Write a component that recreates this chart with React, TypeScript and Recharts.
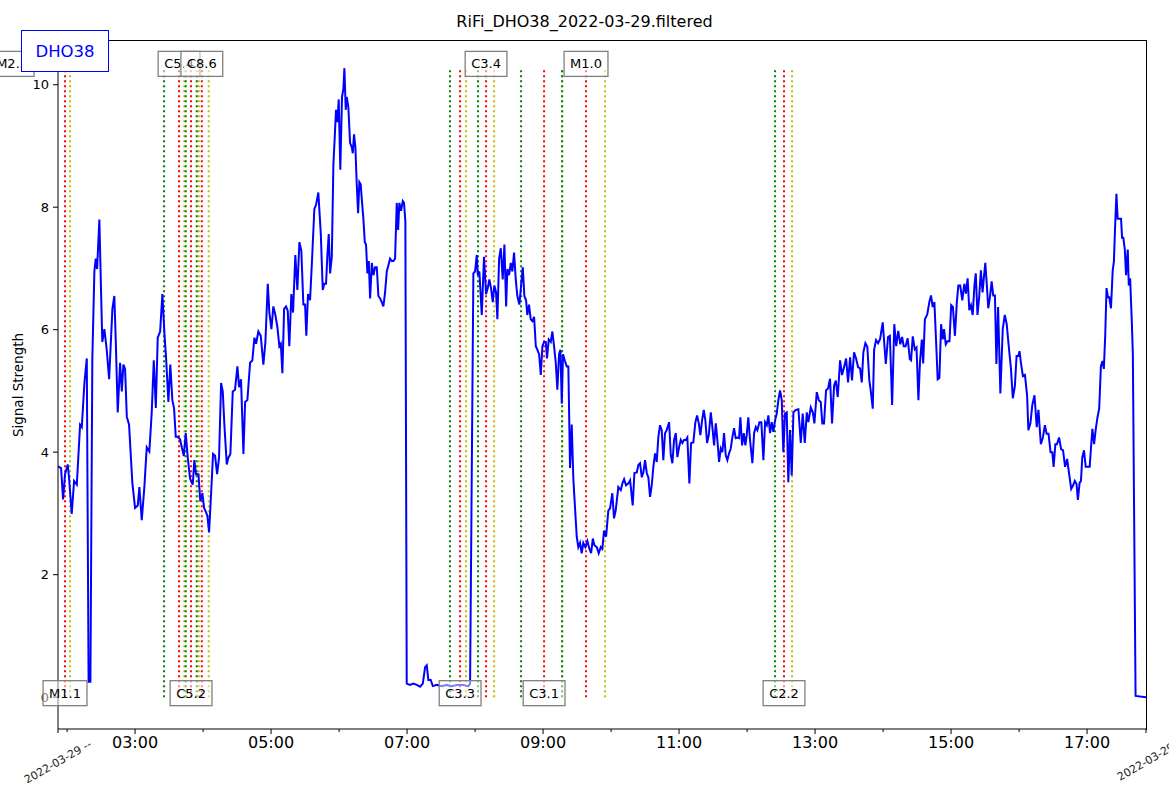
import React from 'react';
import { LineChart, Line, XAxis, YAxis, ReferenceLine, ReferenceDot } from 'recharts';

// minutes since 00:00 UTC
const sampleMinutes = [
  112.0, 114.7, 116.5, 118.2, 120.6, 121.8, 124.1, 126.2, 128.6, 131.5, 133.0, 135.3, 137.4, 139.0, 140.6, 142.3,
  144.1, 145.3, 146.5, 148.5, 150.0, 151.1, 152.9, 155.0, 157.1, 160.0, 161.7, 163.0, 164.7, 166.8, 168.3, 169.7,
  171.2, 172.7, 174.7, 177.6, 180.0, 182.4, 183.8, 185.9, 188.2, 190.3, 192.6, 194.7, 196.5, 198.3, 200.0, 202.1,
  204.1, 205.9, 207.4, 209.4, 211.1, 212.9, 214.4, 215.9, 217.7, 219.7, 221.2, 223.0, 224.7, 226.5, 228.5, 230.9,
  232.3, 233.8, 235.9, 237.6, 239.4, 240.9, 242.4, 243.8, 245.3, 247.1, 248.8, 250.6, 252.4, 254.1, 255.9, 257.4,
  258.8, 260.9, 262.3, 264.1, 266.2, 268.2, 270.3, 271.8, 273.5, 275.6, 277.1, 279.1, 281.5, 283.5, 285.3, 286.8,
  288.8, 290.9, 293.2, 295.0, 297.1, 298.5, 300.3, 302.0, 303.8, 305.6, 307.3, 308.6, 310.0, 311.5, 313.2, 314.7,
  316.1, 317.9, 319.4, 321.4, 323.2, 325.0, 326.7, 328.5, 330.0, 331.1, 332.6, 334.4, 336.2, 338.2, 339.7, 341.7,
  343.9, 345.6, 347.0, 348.5, 349.7, 350.9, 352.1, 353.6, 355.0, 356.2, 357.3, 358.5, 359.7, 361.1, 362.6, 363.8,
  364.7, 365.9, 366.8, 368.2, 369.7, 371.2, 372.1, 373.2, 374.4, 375.6, 376.8, 377.9, 379.1, 380.3, 381.4, 382.7,
  383.8, 385.0, 386.2, 387.4, 388.9, 390.3, 391.8, 393.3, 394.7, 396.2, 397.7, 399.1, 400.6, 402.1, 403.5, 405.0,
  406.5, 407.9, 409.4, 410.9, 412.1, 413.2, 414.7, 416.2, 417.3, 418.5, 419.7, 422.6, 425.6, 428.6, 431.5, 433.9,
  435.9, 437.4, 438.8, 440.9, 442.7, 446.2, 450.6, 455.0, 459.4, 463.9, 469.7, 474.1, 475.6, 478.5, 480.0, 481.5,
  482.4, 483.8, 485.9, 487.9, 489.7, 491.2, 492.6, 494.1, 495.6, 497.0, 498.5, 499.7, 501.2, 502.7, 504.4, 505.9,
  507.4, 508.5, 510.0, 511.5, 512.9, 514.4, 515.9, 517.3, 519.1, 520.6, 522.1, 523.5, 525.0, 526.1, 527.6, 529.1,
  530.6, 532.1, 533.6, 535.0, 536.5, 538.0, 539.4, 540.9, 542.4, 543.5, 545.0, 546.8, 548.2, 549.7, 551.2, 552.6,
  554.1, 555.3, 556.5, 557.6, 559.1, 560.9, 562.3, 563.8, 565.3, 566.7, 568.2, 569.7, 571.1, 572.6, 574.1, 575.5,
  577.3, 579.1, 580.9, 582.4, 583.9, 585.3, 587.4, 589.1, 590.9, 592.3, 593.8, 595.6, 597.6, 599.1, 601.1, 602.6,
  604.1, 606.4, 608.6, 610.0, 611.5, 613.2, 615.3, 616.8, 619.1, 620.6, 622.7, 624.1, 625.6, 627.1, 628.5, 630.0,
  631.5, 632.9, 634.4, 635.9, 637.3, 638.8, 640.3, 641.7, 643.2, 644.7, 646.1, 647.6, 649.1, 651.2, 652.7, 654.1,
  655.6, 657.1, 658.5, 660.0, 661.5, 662.9, 664.4, 665.9, 667.3, 669.1, 670.6, 672.6, 674.4, 675.9, 677.4, 678.8,
  680.3, 681.8, 683.2, 684.7, 686.2, 688.0, 689.4, 690.9, 692.4, 693.8, 695.3, 696.8, 698.2, 699.7, 701.2, 702.6,
  704.1, 705.6, 707.0, 708.5, 710.0, 711.4, 712.9, 714.1, 715.6, 717.1, 718.5, 719.7, 721.1, 722.6, 724.7, 726.2,
  727.7, 729.1, 730.9, 732.6, 734.4, 735.9, 737.4, 738.8, 740.3, 741.8, 743.2, 744.7, 746.2, 747.6, 749.1, 750.6,
  752.0, 753.5, 755.0, 756.4, 757.9, 759.4, 760.9, 763.0, 765.3, 767.4, 769.1, 770.9, 772.7, 774.1, 776.2, 778.0,
  779.4, 781.5, 783.3, 785.0, 786.4, 787.9, 789.7, 791.5, 793.2, 795.0, 796.8, 798.3, 800.0, 802.1, 803.8, 805.6,
  807.4, 809.1, 810.9, 812.6, 814.4, 816.2, 817.9, 819.7, 821.2, 822.6, 824.4, 826.1, 827.9, 829.1, 830.9, 832.1,
  833.8, 835.6, 837.4, 839.7, 842.4, 844.4, 846.0, 848.0, 849.9, 851.6, 853.4, 855.2, 856.8, 858.2, 859.9, 861.7,
  863.6, 864.7, 866.2, 868.0, 869.5, 871.2, 872.5, 874.2, 875.4, 876.9, 879.0, 880.8, 882.3, 883.8, 885.3, 886.8,
  888.2, 889.7, 891.2, 892.7, 893.8, 895.3, 896.8, 898.6, 900.1, 901.6, 903.4, 905.1, 906.4, 908.1, 909.9, 911.7,
  913.1, 914.6, 916.1, 917.6, 919.1, 920.6, 921.8, 923.3, 924.8, 926.3, 927.8, 928.9, 930.2, 931.6, 932.8, 934.3,
  935.8, 937.2, 938.7, 940.0, 941.5, 943.5, 945.6, 947.4, 949.1, 950.9, 952.8, 954.5, 956.3, 957.8, 959.3, 960.4,
  961.7, 963.4, 965.2, 967.1, 968.2, 970.0, 971.7, 973.6, 975.6, 977.1, 979.2, 981.0, 982.8, 984.3, 986.0, 987.8,
  989.3, 990.5, 992.0, 993.4, 995.3, 997.1, 998.8, 1000.6, 1002.4, 1004.2, 1006.0, 1007.5, 1009.2, 1010.7, 1011.9, 1013.4,
  1014.6, 1015.8, 1017.3, 1018.8, 1020.5, 1022.3, 1023.5, 1024.7, 1026.2, 1027.7, 1029.2, 1030.7, 1032.2, 1033.6, 1034.8, 1036.0,
  1037.2, 1038.4, 1039.6, 1041.1, 1042.6, 1043.7, 1044.6, 1045.9, 1047.0, 1048.5, 1050.0, 1050.9, 1052.0, 1053.3, 1054.4, 1055.9,
  1056.8, 1058.0, 1059.5, 1060.4, 1062.8, 1072.0,
];

const signal = [
  3.77, 3.74, 3.23, 3.64, 3.80, 3.57, 2.99, 3.53, 3.47, 4.45, 4.41, 5.13, 5.53, 0.25, 0.25, 5.53,
  6.95, 7.16, 6.99, 7.80, 6.61, 5.80, 6.01, 5.67, 5.19, 6.34, 6.55, 5.80, 4.65, 5.46, 4.99, 5.43,
  5.36, 4.58, 4.45, 3.50, 3.09, 3.13, 3.43, 2.89, 3.43, 4.08, 4.01, 4.65, 5.50, 4.72, 5.87, 5.97,
  6.58, 5.94, 5.53, 4.82, 5.43, 4.85, 4.72, 4.25, 4.25, 4.21, 4.08, 3.94, 4.31, 3.91, 3.57, 3.47,
  3.87, 3.64, 3.64, 3.20, 3.33, 3.09, 3.03, 2.96, 2.69, 3.33, 3.97, 3.94, 3.64, 3.91, 5.13, 4.99,
  4.45, 3.80, 3.91, 3.97, 4.99, 5.02, 5.40, 5.06, 5.19, 3.97, 4.82, 4.85, 5.46, 5.50, 5.87, 5.77,
  5.97, 5.90, 5.43, 5.80, 6.75, 6.28, 6.01, 6.38, 6.24, 6.04, 5.73, 5.77, 5.29, 6.34, 6.38, 6.31,
  5.73, 6.58, 6.28, 7.22, 6.65, 7.43, 7.29, 6.41, 6.41, 5.90, 6.58, 6.48, 7.16, 7.97, 8.04, 8.24,
  7.56, 6.65, 6.75, 6.75, 7.22, 7.56, 6.92, 7.19, 8.71, 9.15, 9.59, 9.39, 9.76, 8.61, 9.80, 9.93,
  10.27, 9.59, 9.80, 9.63, 9.05, 8.98, 8.88, 9.19, 8.98, 8.37, 7.90, 8.41, 8.37, 8.07, 7.83, 7.43,
  7.39, 6.92, 7.12, 6.51, 7.09, 6.89, 7.02, 7.02, 6.55, 6.51, 6.45, 6.38, 6.61, 6.95, 7.05, 7.16,
  7.12, 7.12, 7.16, 8.07, 7.63, 8.07, 7.94, 8.10, 8.07, 7.77, 0.22, 0.20, 0.22, 0.20, 0.17, 0.22,
  0.49, 0.52, 0.28, 0.28, 0.18, 0.20, 0.18, 0.20, 0.18, 0.20, 0.20, 0.18, 0.22, 6.92, 6.95, 7.22,
  6.89, 6.95, 6.24, 7.19, 6.58, 6.68, 6.82, 6.68, 6.45, 6.72, 6.61, 6.17, 7.16, 7.33, 6.82, 7.39,
  6.38, 6.99, 6.89, 7.09, 6.95, 7.26, 6.82, 6.55, 6.41, 6.72, 7.02, 6.55, 6.48, 6.24, 6.41, 6.17,
  6.14, 6.21, 5.73, 5.67, 5.60, 5.26, 5.73, 5.80, 5.80, 5.53, 5.84, 5.80, 5.97, 5.73, 5.46, 5.02,
  5.60, 5.67, 4.79, 5.60, 5.50, 5.40, 5.40, 3.74, 4.45, 3.57, 3.09, 2.62, 2.45, 2.52, 2.35, 2.52,
  2.45, 2.55, 2.42, 2.35, 2.59, 2.48, 2.45, 2.35, 2.45, 2.42, 2.72, 2.62, 3.05, 3.08, 3.33, 2.92,
  3.05, 3.43, 3.38, 3.49, 3.56, 3.46, 3.49, 3.54, 3.13, 3.66, 3.67, 3.79, 3.82, 3.59, 3.67, 3.87,
  3.66, 3.59, 3.27, 3.46, 3.76, 3.98, 3.84, 4.24, 4.44, 4.36, 3.87, 4.31, 4.36, 4.49, 3.95, 3.82,
  4.20, 4.31, 3.92, 4.08, 4.20, 4.15, 4.20, 4.20, 4.24, 3.49, 4.15, 4.16, 4.49, 4.60, 4.47, 4.28,
  4.52, 4.69, 4.52, 4.15, 4.28, 4.65, 4.41, 4.11, 4.47, 4.20, 3.84, 4.06, 4.00, 4.31, 3.95, 3.87,
  3.98, 4.06, 4.24, 4.39, 4.23, 4.24, 4.23, 4.57, 4.11, 4.31, 4.11, 4.28, 4.57, 4.20, 3.82, 4.31,
  4.41, 4.36, 4.49, 4.49, 3.87, 4.49, 4.44, 4.60, 4.31, 4.49, 4.33, 4.52, 4.63, 4.85, 5.01, 4.85,
  4.00, 4.63, 4.65, 3.51, 4.36, 3.62, 4.65, 4.69, 4.70, 4.15, 4.63, 4.15, 4.65, 4.49, 4.73, 4.65,
  4.47, 4.98, 4.85, 4.82, 4.47, 4.47, 5.01, 5.04, 5.20, 4.47, 5.09, 5.17, 4.90, 5.50, 5.26, 5.39,
  5.53, 5.14, 5.55, 5.17, 5.63, 5.53, 5.39, 5.37, 5.14, 5.63, 5.78, 5.72, 5.17, 5.01, 4.71, 5.67,
  5.83, 5.78, 5.85, 6.12, 5.44, 5.88, 5.90, 4.77, 6.09, 5.73, 5.98, 5.76, 5.88, 5.73, 5.73, 5.86,
  5.52, 5.50, 5.89, 5.68, 5.71, 4.85, 5.45, 5.84, 5.45, 6.17, 6.25, 6.45, 6.56, 6.37, 6.45, 5.80,
  5.19, 5.21, 6.09, 5.84, 6.01, 5.76, 5.81, 5.81, 6.40, 6.37, 5.90, 6.45, 6.72, 6.72, 6.48, 6.75,
  6.59, 6.84, 6.32, 6.40, 6.24, 6.72, 6.92, 6.24, 6.53, 6.97, 6.61, 6.84, 7.09, 6.72, 6.35, 6.53,
  6.79, 6.56, 6.56, 5.44, 6.37, 4.96, 6.01, 6.24, 6.09, 5.73, 5.37, 4.88, 5.08, 5.57, 5.57, 5.65,
  5.45, 5.24, 5.26, 4.92, 4.36, 4.47, 4.77, 4.93, 4.41, 4.69, 4.13, 4.24, 4.44, 4.30, 4.30, 4.00,
  4.00, 3.76, 4.13, 4.13, 4.24, 4.05, 4.03, 3.76, 3.89, 3.64, 3.40, 3.45, 3.53, 3.48, 3.22, 3.50,
  3.53, 3.92, 4.03, 3.76, 3.76, 3.76, 4.08, 4.38, 4.13, 4.38, 4.57, 4.71, 5.40, 5.49, 5.36, 5.90,
  6.68, 6.53, 6.53, 6.35, 6.96, 7.12, 7.61, 8.22, 7.81, 7.81, 7.81, 7.50, 7.50, 7.31, 6.89, 7.31,
  6.72, 6.84, 6.12, 5.60, 0.02, 0.00,
];

// flare events (minutes), start = green, peak = red, end = yellow
const flareLabels = ['M2.3', 'M1.1', 'C5.4', 'C5.2', 'C8.6', 'C3.3', 'C3.4', 'C3.1', 'M1.0', 'C2.2'];
const flareStart = [62, 108, 205.6, 224.7, 234.4, 457.9, 482.6, 520.6, 556.8, 744.7];
const flarePeak = [71.5, 118.2, 218.8, 229.4, 238.9, 466.8, 489.7, 540.9, 577.9, 752.6];
const flareEnd = [80, 122.6, 223.5, 236.2, 245.0, 472.0, 496.8, 556.8, 594.7, 759.7];

const xTicks = [112, 120, 180, 240, 300, 360, 420, 480, 540, 600, 660, 720, 780, 840, 900, 960, 1020, 1072];
const yTicks = [0, 2, 4, 6, 8, 10];
const dateLabel = '2022-03-29';

const chartData = sampleMinutes.map((t, i) => ({ t, v: signal[i] }));
const maxSignal = Math.max(...signal);

const FONT = '"DejaVu Sans", sans-serif';

const pad2 = (n: number) => String(n).padStart(2, '0');

const TimeTick = ({ x, y, payload }: any) => {
  const v = payload.value;
  if (v === xTicks[0] || v === xTicks[xTicks.length - 1]) {
    const txt = v === xTicks[0] ? `${dateLabel} --` : dateLabel;
    return (
      <g>
        <line x1={x} x2={x} y1={y} y2={y + 4} stroke="#000" />
        <text
          x={x}
          y={y + 33}
          textAnchor="middle"
          dominantBaseline="central"
          fontSize={11}
          fill="#222"
          fontFamily={FONT}
          transform={`rotate(-30 ${x} ${y + 33})`}
        >
          {txt}
        </text>
      </g>
    );
  }
  if (v % 120 === 0) {
    return <line x1={x} x2={x} y1={y} y2={y + 3} stroke="#000" />;
  }
  return (
    <g>
      <line x1={x} x2={x} y1={y} y2={y + 5} stroke="#000" />
      <text x={x} y={y + 19} textAnchor="middle" fontSize={16} fill="#000" fontFamily={FONT}>
        {`${pad2(Math.floor(v / 60))}:${pad2(v % 60)}`}
      </text>
    </g>
  );
};

const charW = (c: string) => {
  if (c === 'M') return 11.2;
  if (c === 'C') return 9.1;
  if (c === '.') return 4.1;
  return 8.3;
};

const FlareTag = (props: any) => {
  const { cx, cy, text } = props;
  if (cx == null || cy == null) return <g />;
  const w = text.split('').reduce((s: number, c: string) => s + charW(c), 0) + 12;
  return (
    <g>
      <rect
        x={cx - w / 2}
        y={cy - 12.5}
        width={w}
        height={25}
        fill="#fff"
        fillOpacity={0.5}
        stroke="#808080"
        strokeWidth={1.3}
      />
      <text x={cx} y={cy} textAnchor="middle" dominantBaseline="central" fontSize={13} fill="#000" fontFamily={FONT}>
        {text}
      </text>
    </g>
  );
};

const vline = (x: number, color: string, key: string) => (
  <ReferenceLine
    key={key}
    segment={[
      { x, y: 0 },
      { x, y: maxSignal },
    ]}
    stroke={color}
    strokeWidth={2}
    strokeDasharray="2 3"
  />
);

export default function App() {
  return (
    <div style={{ position: 'absolute', left: 0, top: 0, width: 1169, height: 792, background: '#fff', fontFamily: FONT }}>
      <LineChart
        width={1169}
        height={792}
        data={chartData}
        margin={{ top: 40, right: 23, bottom: 33, left: 0 }}
      >
        <XAxis
          dataKey="t"
          type="number"
          domain={[112, 1072]}
          allowDataOverflow
          ticks={xTicks}
          interval={0}
          tick={<TimeTick />}
          tickLine={false}
          tickSize={0}
          tickMargin={0}
          height={30}
          stroke="#000"
        />
        <YAxis
          type="number"
          domain={[-0.52, 10.73]}
          allowDataOverflow
          ticks={yTicks}
          interval={0}
          width={58}
          tickSize={5}
          tickMargin={4}
          stroke="#000"
          tick={{ fill: '#000', fontSize: 13, fontFamily: FONT }}
        />
        {flarePeak.map((p, i) => [
          vline(flareStart[i], '#008000', `s${i}`),
          vline(p, '#ff0000', `p${i}`),
          vline(flareEnd[i], '#bfbf00', `e${i}`),
        ])}
        <Line
          type="linear"
          dataKey="v"
          stroke="#0000ff"
          strokeWidth={2}
          dot={false}
          isAnimationActive={false}
        />
        {flarePeak.map((p, i) => (
          <ReferenceDot
            key={`tag${i}`}
            x={p}
            y={i % 2 === 0 ? 10.34 : 0.065}
            ifOverflow="visible"
            zIndex={2000}
            shape={(sp: any) => <FlareTag {...sp} text={flareLabels[i]} />}
          />
        ))}
      </LineChart>
      <div
        style={{
          position: 'absolute',
          left: 57.5,
          top: 39.5,
          width: 1089,
          height: 690,
          borderTop: '1px solid #000',
          borderRight: '1px solid #000',
          boxSizing: 'border-box',
          pointerEvents: 'none',
        }}
      />
      <div
        style={{
          position: 'absolute',
          left: 0,
          top: 12,
          width: 1169,
          textAlign: 'center',
          fontSize: 16,
          color: '#000',
        }}
      >
        RiFi_DHO38_2022-03-29.filtered
      </div>
      <div
        style={{
          position: 'absolute',
          left: 18,
          top: 385,
          transform: 'translate(-50%, -50%) rotate(-90deg)',
          whiteSpace: 'nowrap',
          fontSize: 13.5,
          color: '#000',
        }}
      >
        Signal Strength
      </div>
      <div
        style={{
          position: 'absolute',
          left: 21,
          top: 30,
          width: 88,
          height: 42,
          boxSizing: 'border-box',
          border: '1.3px solid #0000ff',
          background: '#fff',
          color: '#0000ff',
          fontSize: 16.5,
          display: 'flex',
          alignItems: 'center',
          justifyContent: 'center',
        }}
      >
        DHO38
      </div>
    </div>
  );
}
